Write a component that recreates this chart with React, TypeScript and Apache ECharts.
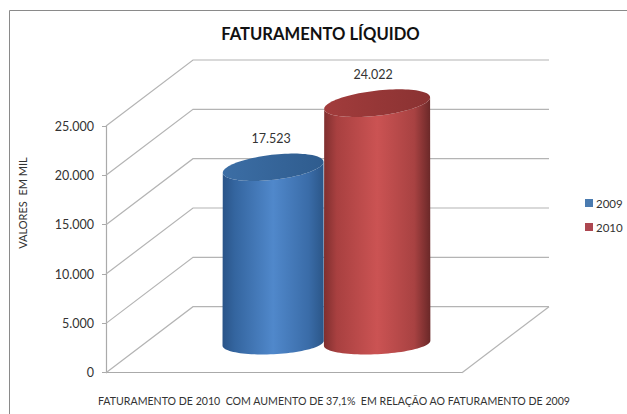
import React, { useEffect, useRef } from "react";
import * as echarts from "echarts";

const categories = ["FATURAMENTO"];
const years = ["2009", "2010"];
const values2009 = [17523];
const values2010 = [24022];
const yTicks = [0, 5000, 10000, 15000, 20000, 25000];
const chartTitle = "FATURAMENTO LÍQUIDO";
const yTitle = "VALORES  EM MIL";
const caption = "FATURAMENTO DE 2010  COM AUMENTO DE 37,1%  EM RELAÇÃO AO FATURAMENTO DE 2009";

const FONT = "Lato, 'Noto Sans', sans-serif";
const DEPTH_X = 87;
const DEPTH_Y = 66;
const BAR_DEPTH = 0.45;

const fmt = (v: number) => String(v).replace(/\B(?=(\d{3})+(?!\d))/g, ".");

function ellipsePts(cx: number, cy: number, a: number, b: number, tilt: number, from: number, to: number, n = 48) {
  const pts: number[][] = [];
  for (let i = 0; i <= n; i++) {
    const t = from + ((to - from) * i) / n;
    const ex = a * Math.cos(t);
    const ey = b * Math.sin(t);
    pts.push([cx + ex * Math.cos(tilt) + ey * Math.sin(tilt), cy - ex * Math.sin(tilt) + ey * Math.cos(tilt)]);
  }
  return pts;
}

function hGrad(stops: [number, string][]) {
  return new echarts.graphic.LinearGradient(0, 0, 1, 0, stops.map(([offset, color]) => ({ offset, color })));
}

function cylinderSeries(name: string, values: number[], color: string, dx: number, rx: number, body: [number, string][], top: [number, string][], labelDx: number) {
  return {
    name,
    type: "custom",
    coordinateSystem: "cartesian2d",
    itemStyle: { color },
    z: 5,
    silent: true,
    encode: { x: 0, y: 1 },
    data: values.map((v, i) => [i, v]),
    renderItem: (_p: any, api: any) => {
      const cat = api.value(0);
      const val = api.value(1);
      const base = api.coord([cat, 0]);
      const head = api.coord([cat, val]);
      const cx = base[0] + BAR_DEPTH * DEPTH_X + dx;
      const by = base[1] - BAR_DEPTH * DEPTH_Y + 0.2;
      const ty = by - (base[1] - head[1]) - 3;
      const topTilt = 0.115;
      const botTilt = 0.05;
      const lower = ellipsePts(cx, by, rx, 11, botTilt, Math.PI, 0);
      const upper = ellipsePts(cx, ty, rx, 12.5, topTilt, 0, -Math.PI);
      const frontTop = ellipsePts(cx, ty, rx, 12.5, topTilt, 0, Math.PI);
      return {
        type: "group",
        children: [
          {
            type: "polygon",
            shape: { points: [...lower, ...frontTop] },
            style: { fill: hGrad(body) },
          },
          {
            type: "polygon",
            shape: { points: [...upper, ...frontTop.slice().reverse()] },
            style: { fill: hGrad(top) },
          },
          {
            type: "text",
            style: {
              x: cx + labelDx,
              y: ty - 29,
              text: fmt(val),
              fill: "#333",
              font: `12.5px ${FONT}`,
              textAlign: "center",
              textVerticalAlign: "middle",
            },
          },
        ],
      };
    },
  };
}

const wallSeries = {
  name: "walls",
  type: "custom",
  coordinateSystem: "cartesian2d",
  silent: true,
  z: 1,
  data: yTicks.map((v) => [0, v]),
  encode: { x: 0, y: 1 },
  renderItem: (p: any, api: any) => {
    const pt = api.coord([0, api.value(1)]);
    const left = p.coordSys.x;
    const right = left + p.coordSys.width;
    const lineStyle = { stroke: "#b4b4b4", lineWidth: 1.2, fill: "none" };
    const children: any[] = [
      { type: "polyline", shape: { points: [[left, pt[1]], [left + DEPTH_X, pt[1] - DEPTH_Y], [right + DEPTH_X, pt[1] - DEPTH_Y]] }, style: lineStyle },
    ];
    if (api.value(1) === 0) {
      children.push({ type: "line", shape: { x1: right, y1: pt[1], x2: right + DEPTH_X, y2: pt[1] - DEPTH_Y }, style: lineStyle });
    }
    return { type: "group", children };
  },
};

export default function App() {
  const ref = useRef<HTMLDivElement>(null);
  useEffect(() => {
    const chart = echarts.init(ref.current!, undefined, { renderer: "svg" });
    chart.setOption({
      animation: false,
      backgroundColor: "#fff",
      title: [
        { text: chartTitle, left: 315.5, top: 20, textAlign: "center", textStyle: { fontFamily: FONT, fontSize: 16.6, fontWeight: "bold", color: "#111" } },
        { text: caption, left: 329, top: 390, textAlign: "center", textStyle: { fontFamily: FONT, fontSize: 10.6, fontWeight: "normal", color: "#333" } },
      ],
      legend: {
        data: years,
        orient: "vertical",
        left: 585,
        top: 197,
        padding: 0,
        itemWidth: 8,
        itemHeight: 8,
        itemGap: 12,
        icon: "rect",
        textStyle: { fontFamily: FONT, fontSize: 11.5, color: "#333", padding: [0, 0, 0, -2] },
      },
      grid: { left: 106, right: 165, top: 126, bottom: 41.3, containLabel: false },
      xAxis: {
        type: "category",
        data: categories,
        axisLabel: { show: false },
        axisTick: { show: false },
        axisLine: { show: true, lineStyle: { color: "#aaa", width: 1.2 } },
      },
      yAxis: {
        type: "value",
        min: 0,
        max: 25000,
        interval: 5000,
        splitLine: { show: false },
        axisLine: { show: true, lineStyle: { color: "#aaa", width: 1.2 } },
        axisTick: { show: true, length: 4, lineStyle: { color: "#aaa" } },
        axisLabel: { fontFamily: FONT, fontSize: 12.5, color: "#333", margin: 12, formatter: (v: number) => fmt(v) },
      },
      graphic: [
        { type: "line", silent: true, shape: { x1: 9.5, y1: 10.5, x2: 627, y2: 10.5 }, style: { stroke: "#8a8a8a", lineWidth: 1 } },
        { type: "line", silent: true, shape: { x1: 9.5, y1: 10.5, x2: 9.5, y2: 414 }, style: { stroke: "#8a8a8a", lineWidth: 1 } },
        {
          type: "text",
          silent: true,
          x: 22,
          y: 203,
          rotation: Math.PI / 2,
          style: { text: yTitle, fill: "#333", font: `11px ${FONT}`, textAlign: "center", textVerticalAlign: "middle" },
        },
      ],
      series: [
        wallSeries,
        cylinderSeries(years[0], values2009, "#4a7bb0", -50, 50.7,
          [[0, "#2a5488"], [0.12, "#34659f"], [0.5, "#5088cb"], [0.85, "#3a6ca8"], [1, "#2b5688"]],
          [[0, "#3c6ea5"], [1, "#2f5c8e"]], -2),
        cylinderSeries(years[1], values2010, "#ad4750", 54, 53.3,
          [[0, "#7f2f2f"], [0.12, "#a84040"], [0.5, "#cb5353"], [0.85, "#a84242"], [1, "#6a2828"]],
          [[0, "#a23c3c"], [1, "#8a3232"]], -4),
      ],
    });
    return () => chart.dispose();
  }, []);
  return <div ref={ref} style={{ position: "absolute", left: 0, top: 0, width: 627, height: 414 }} />;
}
